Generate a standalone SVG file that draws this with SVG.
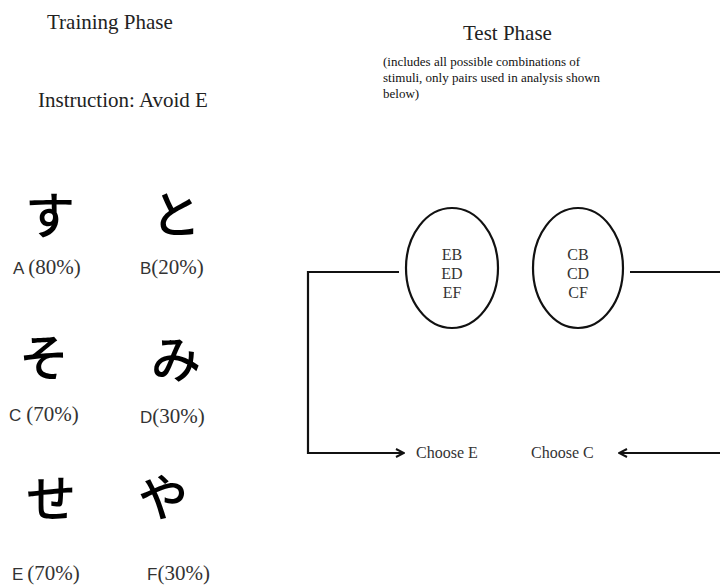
<svg xmlns="http://www.w3.org/2000/svg" width="720" height="586" viewBox="0 0 720 586">
  <style>
    .title { font-family: "Liberation Serif", serif; font-size: 21px; fill: #222; }
    .note { font-family: "Liberation Serif", serif; font-size: 13px; fill: #111; }
    .kana { font-family: "Noto Sans CJK JP", sans-serif; font-size: 50px; font-weight: 500; fill: #000; text-anchor: middle; }
    .let { font-family: "Liberation Sans", sans-serif; font-size: 17px; fill: #333; }
    .pct { font-family: "Liberation Serif", serif; font-size: 21px; fill: #333; }
    .pair { font-family: "Liberation Serif", serif; font-size: 16px; fill: #333; text-anchor: middle; }
    .choice { font-family: "Liberation Serif", serif; font-size: 16px; fill: #333; }
    .oval { fill: #fff; stroke: #111; stroke-width: 2.2; }
    .wire { fill: none; stroke: #111; stroke-width: 2.2; }
  </style>
  <defs>
    <marker id="arrow" viewBox="0 0 10 10" refX="9" refY="5" markerWidth="10" markerHeight="10" markerUnits="userSpaceOnUse" orient="auto">
      <path d="M1,1 L9,5 L1,9" fill="none" stroke="#111" stroke-width="2"/>
    </marker>
  </defs>
  <rect width="720" height="586" fill="#fff"/>

  <!-- training side -->
  <g id="training-header">
    <text class="title" x="47" y="29">Training Phase</text>
    <text class="title" x="38" y="107">Instruction: Avoid E</text>
  </g>

  <g id="stim-A">
    <text class="kana" x="50" y="234">す</text>
    <text x="13" y="274"><tspan class="let">A</tspan><tspan class="pct" dx="4">(80%)</tspan></text>
  </g>
  <g id="stim-B">
    <text class="kana" x="176" y="233">と</text>
    <text x="140" y="274"><tspan class="let">B</tspan><tspan class="pct">(20%)</tspan></text>
  </g>
  <g id="stim-C">
    <text class="kana" x="44" y="376">そ</text>
    <text x="9" y="421"><tspan class="let">C</tspan><tspan class="pct" dx="5">(70%)</tspan></text>
  </g>
  <g id="stim-D">
    <text class="kana" x="176" y="378">み</text>
    <text x="140" y="423"><tspan class="let">D</tspan><tspan class="pct">(30%)</tspan></text>
  </g>
  <g id="stim-E">
    <text class="kana" x="51" y="517">せ</text>
    <text x="12" y="580"><tspan class="let">E</tspan><tspan class="pct" dx="4">(70%)</tspan></text>
  </g>
  <g id="stim-F">
    <text class="kana" x="163" y="516">や</text>
    <text x="147" y="580"><tspan class="let">F</tspan><tspan class="pct">(30%)</tspan></text>
  </g>

  <!-- test side -->
  <g id="test-header">
    <text class="title" x="463" y="40">Test Phase</text>
    <text class="note" x="383" y="66">(includes all possible combinations of</text>
    <text class="note" x="383" y="82">stimuli, only pairs used in analysis shown</text>
    <text class="note" x="383" y="98">below)</text>
  </g>

  <g id="connectors">
    <polyline class="wire" points="399,272 308,272 308,453 404,453" marker-end="url(#arrow)"/>
    <polyline class="wire" points="630,272 721,272"/>
    <polyline class="wire" points="721,453 619,453" marker-end="url(#arrow)"/>
  </g>

  <g id="pairs-E">
    <ellipse class="oval" cx="452" cy="268" rx="46" ry="60"/>
    <text class="pair" x="452" y="260">EB</text>
    <text class="pair" x="452" y="279">ED</text>
    <text class="pair" x="452" y="298">EF</text>
  </g>
  <g id="pairs-C">
    <ellipse class="oval" cx="578" cy="268" rx="45" ry="60"/>
    <text class="pair" x="578" y="260">CB</text>
    <text class="pair" x="578" y="279">CD</text>
    <text class="pair" x="578" y="298">CF</text>
  </g>

  <g id="choose-E">
    <text class="choice" x="416" y="458">Choose E</text>
  </g>
  <g id="choose-C">
    <text class="choice" x="531" y="458">Choose C</text>
  </g>
</svg>
